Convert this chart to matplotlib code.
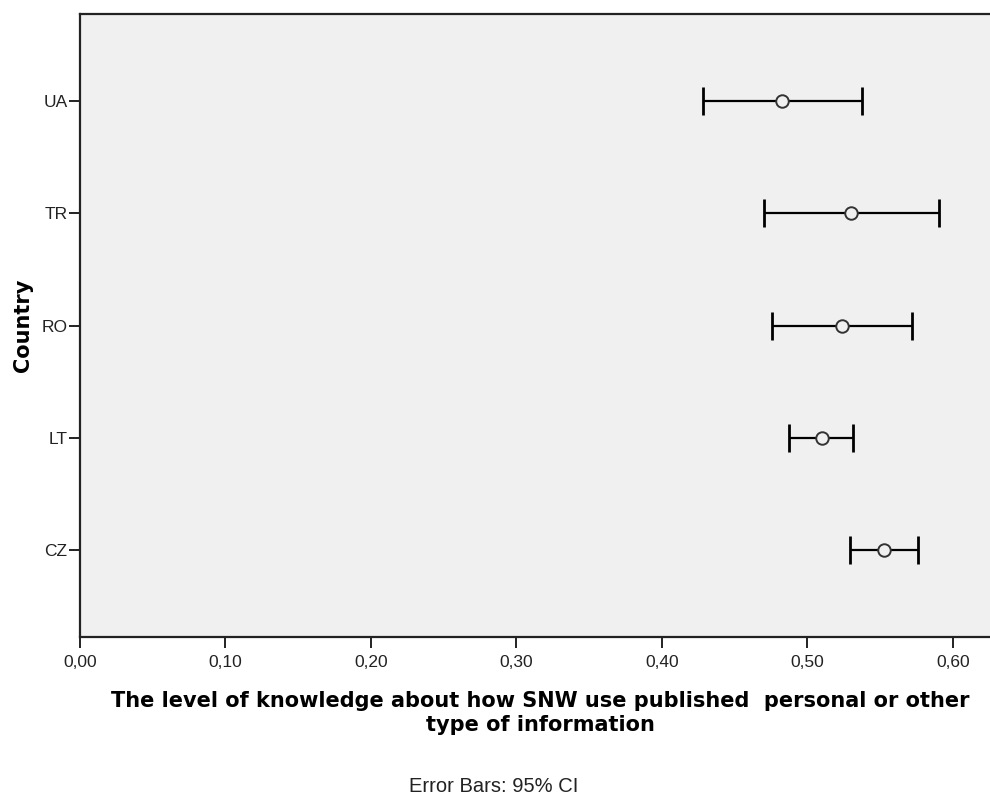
import matplotlib.pyplot as plt
import numpy as np

# countries, bottom to top
countries = ['CZ', 'LT', 'RO', 'TR', 'UA']
means = [0.5526, 0.5097, 0.5237, 0.5301, 0.4827]
ci_low = [0.5292, 0.4877, 0.4756, 0.4699, 0.4280]
ci_high = [0.5759, 0.5315, 0.5718, 0.5908, 0.5372]

xticks = [0.0, 0.1, 0.2, 0.3, 0.4, 0.5, 0.6]
xticklabels = ['0,00', '0,10', '0,20', '0,30', '0,40', '0,50', '0,60']

W, H = 990, 797
fig = plt.figure(figsize=(W / 100, H / 100), dpi=100)
ax = fig.add_axes([80 / W, 1 - 637 / H, 1 - 80 / W + 0.01, (637 - 14) / H])
ax.set_facecolor('#f0f0f0')

y = np.arange(1, len(countries) + 1)
m = np.array(means)
err = [m - np.array(ci_low), np.array(ci_high) - m]
ax.errorbar(means, y, xerr=err, fmt='none', ecolor='black', elinewidth=1.6,
            capsize=10, capthick=2.0, zorder=2)
ax.plot(means, y, 'o', ms=9, mfc='#f0f0f0', mec='#333333', mew=1.4, zorder=3)

ax.set_xlim(0, (990 - 80) / 1455 + 0.0069)
ax.set_ylim(0.225, 5.775)
ax.set_xticks(xticks)
ax.set_xticklabels(xticklabels, fontfamily='Liberation Sans', fontsize=12.5,
                   color='#222222')
ax.set_yticks(y)
ax.set_yticklabels(countries, fontfamily='Liberation Sans', fontsize=12.5,
                   color='#222222')
ax.tick_params(axis='y', length=8, width=1.4, color='#222222', pad=1)
ax.tick_params(axis='x', length=8, width=1.4, color='#222222', pad=5)

for s in ['left', 'bottom', 'top', 'right']:
    ax.spines[s].set_linewidth(1.6)
    ax.spines[s].set_color('#222222')

ax.set_ylabel('Country', fontfamily='DejaVu Sans', fontweight='bold', fontsize=15)
ax.yaxis.set_label_coords(-0.051, 0.5)

fig.text(540 / W, 1 - 713 / H,
         'The level of knowledge about how SNW use published  personal or other\ntype of information',
         ha='center', va='center', fontfamily='DejaVu Sans', fontweight='bold',
         fontsize=15, linespacing=1.2)
fig.text(494 / W, 1 - 786 / H, 'Error Bars: 95% CI', ha='center', va='center',
         fontfamily='Liberation Sans', fontsize=14.5, color='#222222')

fig.savefig('out.png', dpi=100, facecolor='white')
